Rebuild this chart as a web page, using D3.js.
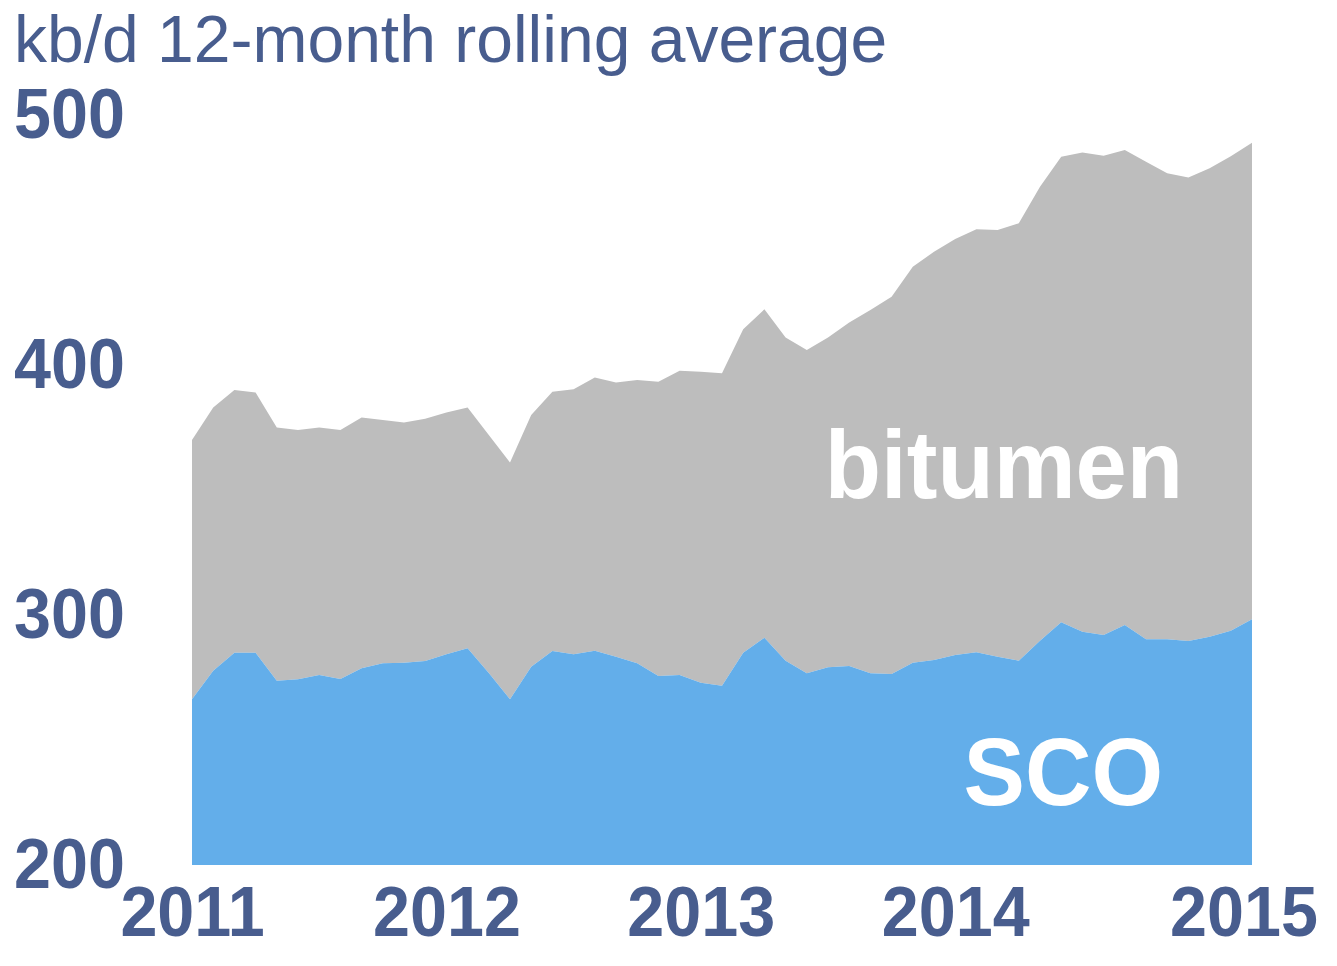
<!DOCTYPE html>
<html>
<head>
<meta charset="utf-8">
<script src="https://cdn.jsdelivr.net/npm/d3@7"></script>
<style>
  body { margin: 0; background: #fff; }
  svg { display: block; }
</style>
</head>
<body>
<div id="chart-container"></div>
<script>
// monthly values, Jan 2011 .. Mar 2015 (kb/d, 12-month rolling average)
const sco = [266.3, 277.7, 284.9, 284.9, 273.7, 274.3, 276, 274.4, 278.7, 280.7, 280.9, 281.6,
  284.3, 286.7, 276.8, 266.3, 279.3, 285.6, 284.3, 285.7, 283.3, 280.7, 275.6, 276,
  272.9, 271.7, 284.9, 290.9, 281.7, 276.7, 279.1, 279.6, 276.7, 276.4, 280.9, 282,
  284, 285.1, 283.3, 281.7, 289.7, 297.1, 293.3, 292, 296, 290.3, 290.3, 289.6,
  291.3, 293.7, 298.3];
// SCO + bitumen
const total = [370, 383, 390, 389, 375, 374, 375, 374, 379, 378, 377, 378.5,
  381, 383, 372, 361, 380, 389.3, 390.3, 395, 393, 394, 393.3, 397.7,
  397.3, 396.7, 414.3, 422.3, 411, 406, 411, 417, 422, 427.3, 439.3, 445.3,
  450.4, 454.3, 454, 456.7, 471.3, 483.3, 485, 483.7, 486, 481.3, 476.7, 475,
  478.7, 483.5, 488.9];

const yTicks = [200, 300, 400, 500];
const yearLabels = ["2011", "2012", "2013", "2014", "2015"];
const yearPos = [0, 12, 24, 36, 49.6]; // month index where each year label sits

const title = "kb/d 12-month rolling average";
const textColor = "#485d8e";

const w = 1337;
const h = 966;

const svg = d3.select("#chart-container")
  .append("svg")
  .attr("width", w)
  .attr("height", h);

const x = d3.scaleLinear().domain([0, sco.length - 1]).range([192, 1252]);
const y = d3.scaleLinear().domain([200, 500]).range([865, 115]);

const idx = d3.range(sco.length);

// bitumen (stacked on top of SCO)
const bitumenArea = d3.area()
  .x((i) => x(i))
  .y0((i) => y(sco[i]))
  .y1((i) => y(total[i]));

const scoArea = d3.area()
  .x((i) => x(i))
  .y0(y(200))
  .y1((i) => y(sco[i]));

svg.append("path")
  .datum(idx)
  .attr("d", bitumenArea)
  .attr("fill", "#bdbdbd");

svg.append("path")
  .datum(idx)
  .attr("d", scoArea)
  .attr("fill", "#63aeea");

// title
svg.append("text")
  .attr("x", 14)
  .attr("y", 62)
  .attr("fill", textColor)
  .style("font-family", "'Liberation Sans', Arial, sans-serif")
  .style("font-size", "66px")
  .text(title);

const boldFont = "'Liberation Sans', Arial, sans-serif";

// y axis
const yAxis = d3.axisLeft(y).tickValues(yTicks).tickSize(0).tickFormat(d3.format("d"));
const gy = svg.append("g")
  .attr("transform", "translate(14,0)")
  .call(yAxis);
gy.select(".domain").remove();
gy.selectAll("text")
  .attr("x", 0)
  .attr("dy", 0)
  .attr("transform", "translate(0,22) scale(0.95,1)")
  .attr("text-anchor", "start")
  .attr("fill", textColor)
  .style("font-family", boldFont)
  .style("font-weight", "bold")
  .style("font-size", "70px");

// x axis
const xAxis = d3.axisBottom(x)
  .tickValues(yearPos)
  .tickSize(0)
  .tickFormat((d, i) => yearLabels[i]);
const gx = svg.append("g")
  .attr("transform", "translate(0,936)")
  .call(xAxis);
gx.select(".domain").remove();
gx.selectAll("text")
  .attr("y", 0)
  .attr("dy", 0)
  .attr("transform", "scale(0.95,1)")
  .attr("text-anchor", "middle")
  .attr("fill", textColor)
  .style("font-family", boldFont)
  .style("font-weight", "bold")
  .style("font-size", "70px");

// series labels
const labels = [
  { name: "bitumen", at: 38.3, v: 347 },
  { name: "SCO", at: 41.1, v: 224 }
];
svg.selectAll(".series-label")
  .data(labels)
  .enter()
  .append("text")
  .attr("class", "series-label")
  .attr("transform", (d) => "translate(" + x(d.at) + "," + y(d.v) + ") scale(0.95,1)")
  .attr("text-anchor", "middle")
  .attr("fill", "#ffffff")
  .style("font-family", boldFont)
  .style("font-weight", "bold")
  .style("font-size", "97px")
  .text((d) => d.name);
</script>
</body>
</html>
